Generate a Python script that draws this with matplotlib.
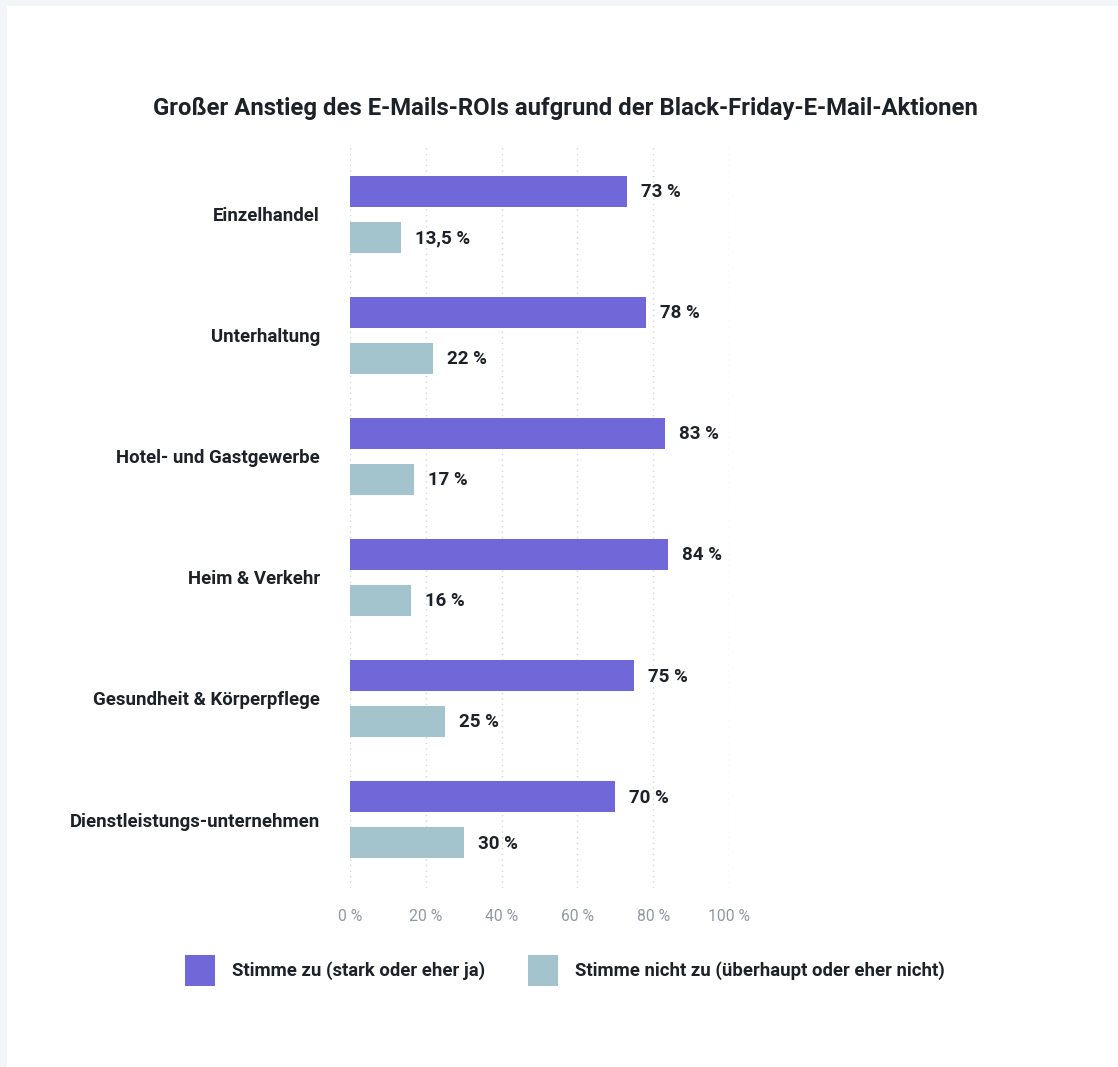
import matplotlib.pyplot as plt
from matplotlib.patches import Rectangle
import numpy as np

plt.rcParams['font.family'] = ['Roboto', 'DejaVu Sans']

categories = ["Einzelhandel", "Unterhaltung", "Hotel- und Gastgewerbe",
              "Heim & Verkehr", "Gesundheit & Körperpflege",
              "Dienstleistungs-unternehmen"]
agree = [73, 78, 83, 84, 75, 70]
disagree = [13.5, 22, 17, 16, 25, 30]
series_names = ["Stimme zu (stark oder eher ja)",
                "Stimme nicht zu (überhaupt oder eher nicht)"]
ticks = [0, 20, 40, 60, 80, 100]

PURPLE = "#7067d9"
TEAL = "#a3c4cd"
TEXT = "#1d2228"
GRAY = "#8e99a4"

W, H = 1118, 1067
fig = plt.figure(figsize=(W / 100, H / 100), dpi=100, facecolor="#f3f6f9")

# white card
fig.patches.append(Rectangle((7 / W, 0), 1 - 7 / W, 1 - 6 / H,
                             transform=fig.transFigure, facecolor="white",
                             edgecolor="none", zorder=-5))


def fx(px):
    return px / W


def fy(py):
    return 1 - py / H


ax = fig.add_axes([fx(350), fy(888), fx(729) - fx(350), fy(145) - fy(888)])
ax.set_facecolor("none")

y = np.arange(len(categories))
h = 0.256
off = 0.19


def fmt(v):
    s = f"{v:g}".replace(".", ",")
    return f"{s} %"


ax.barh(y - off, agree, height=h, color=PURPLE, zorder=2)
ax.barh(y + off, disagree, height=h, color=TEAL, zorder=2)

for yi, a, d in zip(y, agree, disagree):
    ax.annotate(fmt(a), (a, yi - off), xytext=(14, -1), textcoords="offset pixels",
                va="center", ha="left", fontsize=13.5, fontweight="bold", color=TEXT)
    ax.annotate(fmt(d), (d, yi + off), xytext=(14, -1), textcoords="offset pixels",
                va="center", ha="left", fontsize=13.5, fontweight="bold", color=TEXT)

ax.set_xlim(0, 100)
ax.set_ylim(len(categories) - 1 + 0.566, -0.574)
ax.set_xticks(ticks)
ax.set_xticklabels([f"{t} %" for t in ticks], color=GRAY, fontsize=11.3)
ax.set_yticks(y)
ax.set_yticklabels(categories, fontsize=13.4, fontweight="bold", color=TEXT)
ax.tick_params(axis="x", length=0, pad=15)
ax.tick_params(axis="y", length=0, pad=21.6)
ax.grid(axis="x", linestyle=(0, (1, 3)), color="#d3d7db", linewidth=1, zorder=0)
for s in ax.spines.values():
    s.set_visible(False)

fig.text(fx(565), fy(108), "Großer Anstieg des E-Mails-ROIs aufgrund der Black-Friday-E-Mail-Aktionen",
         ha="center", va="center", fontsize=17.2, fontweight="bold", color=TEXT)

# legend
for x0, color, name in [(185, PURPLE, series_names[0]), (528, TEAL, series_names[1])]:
    fig.patches.append(Rectangle((fx(x0), fy(986)), fx(30), 31 / H,
                                 transform=fig.transFigure, facecolor=color,
                                 edgecolor="none"))
    fig.text(fx(x0 + 47), fy(971), name, ha="left", va="center",
             fontsize=13.3, fontweight="bold", color=TEXT)

fig.savefig("out.png", dpi=100, facecolor=fig.get_facecolor())
